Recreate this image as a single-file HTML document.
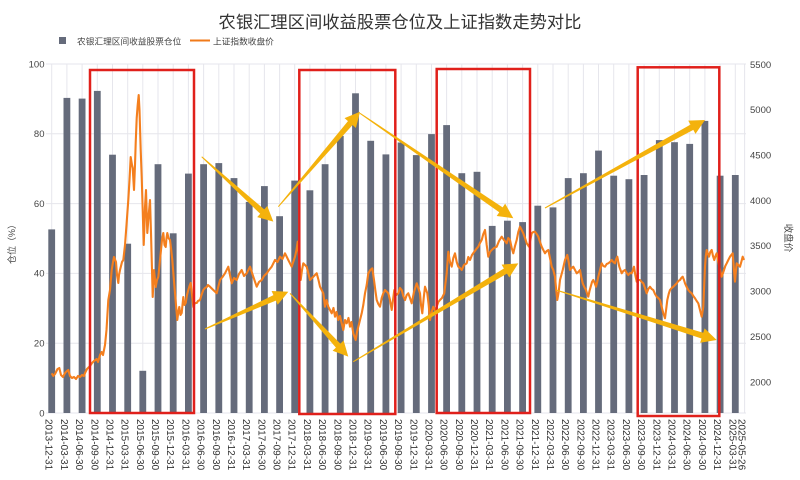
<!DOCTYPE html>
<html><head><meta charset="utf-8"><style>
html,body{margin:0;padding:0;background:#fff;}
svg{display:block;}
text{font-family:"Liberation Sans","Noto Sans CJK SC",sans-serif;}
</style></head><body>
<svg width="800" height="480" viewBox="0 0 800 480" xmlns="http://www.w3.org/2000/svg">
<rect width="800" height="480" fill="#fff"/>
<text x="400" y="28" font-size="17.3" fill="#333" text-anchor="middle">农银汇理区间收益股票仓位及上证指数走势对比</text>
<rect x="59" y="37" width="7" height="7" fill="#656b7b"/>
<text x="77" y="44.5" font-size="8.7" fill="#444">农银汇理区间收益股票仓位</text>
<line x1="190" y1="40.5" x2="210" y2="40.5" stroke="#f07a1a" stroke-width="2"/>
<text x="213" y="44.5" font-size="8.7" fill="#444">上证指数收盘价</text>
<g stroke="#e6e6ec" stroke-width="1">
<line x1="46" y1="64" x2="746" y2="64"/><line x1="46" y1="133.8" x2="746" y2="133.8"/><line x1="46" y1="203.6" x2="746" y2="203.6"/><line x1="46" y1="273.4" x2="746" y2="273.4"/><line x1="46" y1="343.2" x2="746" y2="343.2"/><line x1="46" y1="413" x2="746" y2="413"/>
<line x1="51.7" y1="64" x2="51.7" y2="413"/><line x1="66.9" y1="64" x2="66.9" y2="413"/><line x1="82.1" y1="64" x2="82.1" y2="413"/><line x1="97.3" y1="64" x2="97.3" y2="413"/><line x1="112.5" y1="64" x2="112.5" y2="413"/><line x1="127.7" y1="64" x2="127.7" y2="413"/><line x1="142.8" y1="64" x2="142.8" y2="413"/><line x1="158" y1="64" x2="158" y2="413"/><line x1="173.2" y1="64" x2="173.2" y2="413"/><line x1="188.4" y1="64" x2="188.4" y2="413"/><line x1="203.6" y1="64" x2="203.6" y2="413"/><line x1="218.8" y1="64" x2="218.8" y2="413"/><line x1="234" y1="64" x2="234" y2="413"/><line x1="249.2" y1="64" x2="249.2" y2="413"/><line x1="264.4" y1="64" x2="264.4" y2="413"/><line x1="279.6" y1="64" x2="279.6" y2="413"/><line x1="294.7" y1="64" x2="294.7" y2="413"/><line x1="309.9" y1="64" x2="309.9" y2="413"/><line x1="325.1" y1="64" x2="325.1" y2="413"/><line x1="340.3" y1="64" x2="340.3" y2="413"/><line x1="355.5" y1="64" x2="355.5" y2="413"/><line x1="370.7" y1="64" x2="370.7" y2="413"/><line x1="385.9" y1="64" x2="385.9" y2="413"/><line x1="401.1" y1="64" x2="401.1" y2="413"/><line x1="416.3" y1="64" x2="416.3" y2="413"/><line x1="431.5" y1="64" x2="431.5" y2="413"/><line x1="446.6" y1="64" x2="446.6" y2="413"/><line x1="461.8" y1="64" x2="461.8" y2="413"/><line x1="477" y1="64" x2="477" y2="413"/><line x1="492.2" y1="64" x2="492.2" y2="413"/><line x1="507.4" y1="64" x2="507.4" y2="413"/><line x1="522.6" y1="64" x2="522.6" y2="413"/><line x1="537.8" y1="64" x2="537.8" y2="413"/><line x1="553" y1="64" x2="553" y2="413"/><line x1="568.2" y1="64" x2="568.2" y2="413"/><line x1="583.4" y1="64" x2="583.4" y2="413"/><line x1="598.5" y1="64" x2="598.5" y2="413"/><line x1="613.7" y1="64" x2="613.7" y2="413"/><line x1="628.9" y1="64" x2="628.9" y2="413"/><line x1="644.1" y1="64" x2="644.1" y2="413"/><line x1="659.3" y1="64" x2="659.3" y2="413"/><line x1="674.5" y1="64" x2="674.5" y2="413"/><line x1="689.7" y1="64" x2="689.7" y2="413"/><line x1="704.9" y1="64" x2="704.9" y2="413"/><line x1="720.1" y1="64" x2="720.1" y2="413"/><line x1="735.3" y1="64" x2="735.3" y2="413"/><line x1="744.6" y1="64" x2="744.6" y2="413"/>
</g>
<g fill="#656b7b">
<rect x="48.3" y="229.4" width="6.8" height="183.6"/><rect x="63.5" y="97.9" width="6.8" height="315.1"/><rect x="78.7" y="98.6" width="6.8" height="314.4"/><rect x="93.9" y="90.9" width="6.8" height="322.1"/><rect x="109.1" y="154.7" width="6.8" height="258.3"/><rect x="124.3" y="243.7" width="6.8" height="169.3"/><rect x="139.4" y="370.8" width="6.8" height="42.2"/><rect x="154.6" y="164.2" width="6.8" height="248.8"/><rect x="169.8" y="233.3" width="6.8" height="179.7"/><rect x="185" y="173.6" width="6.8" height="239.4"/><rect x="200.2" y="164.2" width="6.8" height="248.8"/><rect x="215.4" y="163.1" width="6.8" height="249.9"/><rect x="230.6" y="178.1" width="6.8" height="234.9"/><rect x="245.8" y="201.9" width="6.8" height="211.1"/><rect x="261" y="186.1" width="6.8" height="226.9"/><rect x="276.2" y="216.2" width="6.8" height="196.8"/><rect x="291.3" y="180.6" width="6.8" height="232.4"/><rect x="306.5" y="190.3" width="6.8" height="222.7"/><rect x="321.7" y="164.2" width="6.8" height="248.8"/><rect x="336.9" y="135.9" width="6.8" height="277.1"/><rect x="352.1" y="93.3" width="6.8" height="319.7"/><rect x="367.3" y="140.8" width="6.8" height="272.2"/><rect x="382.5" y="154.4" width="6.8" height="258.6"/><rect x="397.7" y="142.5" width="6.8" height="270.5"/><rect x="412.9" y="155.1" width="6.8" height="257.9"/><rect x="428.1" y="134.1" width="6.8" height="278.9"/><rect x="443.2" y="125.1" width="6.8" height="287.9"/><rect x="458.4" y="173.2" width="6.8" height="239.8"/><rect x="473.6" y="171.8" width="6.8" height="241.2"/><rect x="488.8" y="225.9" width="6.8" height="187.1"/><rect x="504" y="220.7" width="6.8" height="192.3"/><rect x="519.2" y="222.1" width="6.8" height="190.9"/><rect x="534.4" y="205.7" width="6.8" height="207.3"/><rect x="549.6" y="207.4" width="6.8" height="205.6"/><rect x="564.8" y="178.1" width="6.8" height="234.9"/><rect x="580" y="173.2" width="6.8" height="239.8"/><rect x="595.1" y="150.6" width="6.8" height="262.4"/><rect x="610.3" y="175.7" width="6.8" height="237.3"/><rect x="625.5" y="179.2" width="6.8" height="233.8"/><rect x="640.7" y="175" width="6.8" height="238"/><rect x="655.9" y="140.1" width="6.8" height="272.9"/><rect x="671.1" y="142.2" width="6.8" height="270.8"/><rect x="686.3" y="143.9" width="6.8" height="269.1"/><rect x="701.5" y="120.9" width="6.8" height="292.1"/><rect x="716.7" y="175.7" width="6.8" height="237.3"/><rect x="731.9" y="175" width="6.8" height="238"/>
</g>
<polyline fill="none" stroke="#f47f1e" stroke-width="2.1" stroke-linejoin="round" points="51.7,373.3 53.3,376 55,374 57.5,369 59.3,368 61,375 63,377 65,373 67,371 68.3,370 70,376 72,378 74,377 76,379 78,376 80,377 82,375 84,376 85,373 87,369 90,366 92,363 94,361 96.7,359 98,362 100,355 101.7,352 103,355 105,345 106.5,330 108.3,300 110,290 111.7,270 113,262 114,257 116,262 117,275 118.3,283 119,275 120,270 122,262 123.3,260 125,245 126.5,225 128.3,200 129.5,180 130.7,157 132,165 132.7,168 134,190 135,165 135.7,143 136.7,118 137.7,105 138.7,95 139.5,110 140,127 140.7,150 141.7,177 142.7,210 143.7,245 144.5,225 145,207 146,190 147.3,233 148.7,215 150,200 151,233 152,270 152.7,297 154,270 155.7,287 157,280 158.3,277 159.5,265 160.7,253 162,240 163.3,233 164.5,245 165.7,247 166.5,238 167.3,233 168.5,238 170,240 171,248 172.3,260 173.5,275 175,293 176,305 177.3,320 178.3,312 179.3,307 180.5,315 181.7,313 182.5,305 183.3,297 184.5,305 185.7,303 187,295 188.3,290 189.5,286 190.7,283 192,295 193.3,307 195,303 196.7,303 198,301 200,300 201.5,295 203.3,290 205,288 206.7,287 208,285 210,286.7 213.3,290 216.7,293.3 220,280 222.5,277 225,273.3 228.3,266.7 230,275 231.7,283.3 234,278 236.7,280 239,274 241.7,270 244,276 246.7,273.3 250,266.7 253.3,276.7 256.7,286.7 259,282 261.7,280 264,276 266.7,273.3 269,270 271.7,266.7 275,260 277.5,262 280,256.7 282.5,259 285,253.3 288.3,260 291.7,266.7 295,256.7 296.5,250 297.7,241.7 299.3,260 300.7,280 302,270 303.3,263.3 306.7,266.7 308.5,274 310,280 313.3,276.7 316.7,273.3 318.5,280 320,286.7 323.3,293.3 325,306.7 326.5,300 328.3,306.7 330,310 331.7,313.3 333.5,308 335,316.7 336.5,312 338.3,320 340,316 341.7,323.3 343.3,330 345,320 346.7,323.3 348.5,318 350,326.7 351.5,322 353.3,333.3 355.7,340 357,332 358.3,326.7 360,320 361.7,313.3 363.3,305 365,293.3 366.7,285 368.3,273.3 370.3,270 372.3,268.3 374,280 375.3,290 376.7,300 378.3,304 380,306.7 381.7,298 383.3,293.3 385,290 388.3,293.3 390,300 391.7,310 393,300 394.3,290 396.3,295 398.3,293.3 400,288 401.7,290 403.3,296 405,300 406.7,295 408.3,293.3 410,298 411.7,303.3 414,292 416.7,283.3 418.3,288 420,293.3 421,305 422.3,313.3 423.7,298 425,286.7 427.3,293.3 428.7,305 430,320 431.7,312 433.3,306.7 435,310 436.7,306.7 438.3,302 440,300 442,298 444.3,293.3 445.5,283 446.7,273.3 447.5,262 448.3,251.7 450,262 451.7,266.7 453.3,258 455,253.3 456.7,262 458.3,266.7 460,268 461.7,270 464,265 466.7,263.3 468.3,257 470,260 472,255 474.3,251.7 476.3,249 478.3,246.7 480,243 481.7,240 483.3,234 485,230 486.7,245 488.3,256.7 490,252 491.7,250 494,248 496.7,246.7 499,241 501.7,236.7 504,240 506.7,243.3 508.3,238 510,240 511.7,248 513.3,253.3 515,246 516.7,240 518.3,232 520,226.7 521.7,230 523.3,233.3 525,238 526.7,243.3 529,246.7 530.3,240 531.7,233.3 533.3,232 535,231.7 536.7,234 538.3,236.7 540,242 541.7,246.7 543.3,250 545,253.3 546.7,251 548.3,250 550,258 551.7,266.7 553.3,270 555,276.7 556.2,290 557.3,300 558.7,292 560,280 562.7,270 565,260 567.3,255 568.7,262 570,270 571.7,268 573.3,266.7 575,270 576.7,273.3 578.3,272 580,270 581.3,277 582.7,283.3 584.3,287 586,290 587.2,294 588.3,296.7 589.5,291 590.7,286.7 592,282 593.3,280 594.7,283 596,286.7 597.2,282 598.3,276.7 600,270 601.7,263.3 603.3,266 605,266.7 606.7,264 608.3,263.3 610,262 611.7,260 613.3,262 615,263.3 616.2,259 617.3,256.7 618.3,262 619.3,266.7 620.5,270 621.7,273.3 623.3,271 625,270 626.7,273 628.3,275 630,273 631.7,273.3 633,270 634,266.7 635.3,275 636.7,281.7 638.3,280 640,280 641.7,282 643.3,283.3 645,288 646.7,293.3 648.3,289 650,286.7 651.7,289 653.3,290 655,294 656.7,296.7 658.3,298 660,300 661.7,307 663.3,313.3 665,318.3 666.2,309 667.3,300 668.7,294 670,290 671.7,288 673.3,286.7 675,285 676.7,283.3 678.3,281 680,280 681.3,278 682.7,276.7 684,280 685,283.3 686.7,287 688.3,290 690,292 691.7,293.3 693.3,296 695,298.3 696.7,301 698.3,303.3 700,310 701.7,316.7 702.5,312 703.3,306.7 704.2,285 705,266.7 705.8,256 706.7,250 708,254 709,256.7 710.3,252 711.7,250 713,256 714.3,260 715.5,256 716.7,253.3 718,260 719.3,266.7 720.5,272 721.7,276.7 723,273 724,270 725.3,266 726.7,263.3 728.3,260 730,256.7 731.3,255 732.7,253.3 733.8,268 735,281.7 735.8,272 736.7,263.3 738.3,265 740,266.7 741.3,262 742.7,256.7 744,260"/>
<g fill="none" stroke="#e0201b" stroke-width="2.5">
<rect x="90" y="70" width="104" height="343"/>
<rect x="299.3" y="70" width="96" height="344"/>
<rect x="436.7" y="69" width="93.3" height="344"/>
<rect x="637.7" y="67.3" width="81.6" height="348.7"/>
</g>
<g fill="#f4b20c">
<polygon transform="translate(201.7,156.7) rotate(42.2)" points="0,-0.5 81.7,-3 81.7,-7.5 96.7,0 81.7,7.5 81.7,3 0,0.5"/>
<polygon transform="translate(278.3,206.7) rotate(-49.3)" points="0,-0.5 110.3,-3 110.3,-7.5 125.3,0 110.3,7.5 110.3,3 0,0.5"/>
<polygon transform="translate(205,329) rotate(-24.1)" points="0,-0.5 76.3,-3 76.3,-7.5 91.3,0 76.3,7.5 76.3,3 0,0.5"/>
<polygon transform="translate(290,293.3) rotate(47.4)" points="0,-0.5 71.1,-3 71.1,-7.5 86.1,0 71.1,7.5 71.1,3 0,0.5"/>
<polygon transform="translate(353.3,361.7) rotate(-30.8)" points="0,-0.5 177.1,-3 177.1,-7.5 192.1,0 177.1,7.5 177.1,3 0,0.5"/>
<polygon transform="translate(360,113.3) rotate(34.4)" points="0,-0.5 170.8,-3 170.8,-7.5 185.8,0 170.8,7.5 170.8,3 0,0.5"/>
<polygon transform="translate(545,208) rotate(-28.8)" points="0,-0.5 167.6,-3 167.6,-7.5 182.6,0 167.6,7.5 167.6,3 0,0.5"/>
<polygon transform="translate(556,290) rotate(17.3)" points="0,-0.5 153.3,-3 153.3,-7.5 168.3,0 153.3,7.5 153.3,3 0,0.5"/>
</g>
<g font-size="9.5" fill="#444" text-anchor="end">
<text x="44.5" y="416.3">0</text><text x="44.5" y="346.5">20</text><text x="44.5" y="276.7">40</text><text x="44.5" y="206.9">60</text><text x="44.5" y="137.1">80</text><text x="44.5" y="67.3">100</text>
</g>
<g font-size="9.5" fill="#444">
<text x="750" y="385.3">2000</text><text x="750" y="339.9">2500</text><text x="750" y="294.6">3000</text><text x="750" y="249.2">3500</text><text x="750" y="203.9">4000</text><text x="750" y="158.5">4500</text><text x="750" y="113.2">5000</text><text x="750" y="67.8">5500</text>
</g>
<text transform="translate(15,242) rotate(-90)" font-size="9" fill="#444" text-anchor="middle">仓位（%）</text>
<text transform="translate(785,238) rotate(90)" font-size="9.5" fill="#444" text-anchor="middle">收盘价</text>
<g font-size="10" fill="#333">
<text transform="translate(51.7,419) rotate(90)" dy="0.6em">2013-12-31</text>
<text transform="translate(66.9,419) rotate(90)" dy="0.6em">2014-03-31</text>
<text transform="translate(82.1,419) rotate(90)" dy="0.6em">2014-06-30</text>
<text transform="translate(97.3,419) rotate(90)" dy="0.6em">2014-09-30</text>
<text transform="translate(112.5,419) rotate(90)" dy="0.6em">2014-12-31</text>
<text transform="translate(127.7,419) rotate(90)" dy="0.6em">2015-03-31</text>
<text transform="translate(142.8,419) rotate(90)" dy="0.6em">2015-06-30</text>
<text transform="translate(158,419) rotate(90)" dy="0.6em">2015-09-30</text>
<text transform="translate(173.2,419) rotate(90)" dy="0.6em">2015-12-31</text>
<text transform="translate(188.4,419) rotate(90)" dy="0.6em">2016-03-31</text>
<text transform="translate(203.6,419) rotate(90)" dy="0.6em">2016-06-30</text>
<text transform="translate(218.8,419) rotate(90)" dy="0.6em">2016-09-30</text>
<text transform="translate(234,419) rotate(90)" dy="0.6em">2016-12-31</text>
<text transform="translate(249.2,419) rotate(90)" dy="0.6em">2017-03-31</text>
<text transform="translate(264.4,419) rotate(90)" dy="0.6em">2017-06-30</text>
<text transform="translate(279.6,419) rotate(90)" dy="0.6em">2017-09-30</text>
<text transform="translate(294.7,419) rotate(90)" dy="0.6em">2017-12-31</text>
<text transform="translate(309.9,419) rotate(90)" dy="0.6em">2018-03-31</text>
<text transform="translate(325.1,419) rotate(90)" dy="0.6em">2018-06-30</text>
<text transform="translate(340.3,419) rotate(90)" dy="0.6em">2018-09-30</text>
<text transform="translate(355.5,419) rotate(90)" dy="0.6em">2018-12-31</text>
<text transform="translate(370.7,419) rotate(90)" dy="0.6em">2019-03-31</text>
<text transform="translate(385.9,419) rotate(90)" dy="0.6em">2019-06-30</text>
<text transform="translate(401.1,419) rotate(90)" dy="0.6em">2019-09-30</text>
<text transform="translate(416.3,419) rotate(90)" dy="0.6em">2019-12-31</text>
<text transform="translate(431.5,419) rotate(90)" dy="0.6em">2020-03-31</text>
<text transform="translate(446.6,419) rotate(90)" dy="0.6em">2020-06-30</text>
<text transform="translate(461.8,419) rotate(90)" dy="0.6em">2020-09-30</text>
<text transform="translate(477,419) rotate(90)" dy="0.6em">2020-12-31</text>
<text transform="translate(492.2,419) rotate(90)" dy="0.6em">2021-03-31</text>
<text transform="translate(507.4,419) rotate(90)" dy="0.6em">2021-06-30</text>
<text transform="translate(522.6,419) rotate(90)" dy="0.6em">2021-09-30</text>
<text transform="translate(537.8,419) rotate(90)" dy="0.6em">2021-12-31</text>
<text transform="translate(553,419) rotate(90)" dy="0.6em">2022-03-31</text>
<text transform="translate(568.2,419) rotate(90)" dy="0.6em">2022-06-30</text>
<text transform="translate(583.4,419) rotate(90)" dy="0.6em">2022-09-30</text>
<text transform="translate(598.5,419) rotate(90)" dy="0.6em">2022-12-31</text>
<text transform="translate(613.7,419) rotate(90)" dy="0.6em">2023-03-31</text>
<text transform="translate(628.9,419) rotate(90)" dy="0.6em">2023-06-30</text>
<text transform="translate(644.1,419) rotate(90)" dy="0.6em">2023-09-30</text>
<text transform="translate(659.3,419) rotate(90)" dy="0.6em">2023-12-31</text>
<text transform="translate(674.5,419) rotate(90)" dy="0.6em">2024-03-31</text>
<text transform="translate(689.7,419) rotate(90)" dy="0.6em">2024-06-30</text>
<text transform="translate(704.9,419) rotate(90)" dy="0.6em">2024-09-30</text>
<text transform="translate(720.1,419) rotate(90)" dy="0.6em">2024-12-31</text>
<text transform="translate(735.3,419) rotate(90)" dy="0.6em">2025-03-31</text>
<text transform="translate(744.6,419) rotate(90)" dy="0.6em">2025-05-26</text>
</g>
</svg>
</body></html>
